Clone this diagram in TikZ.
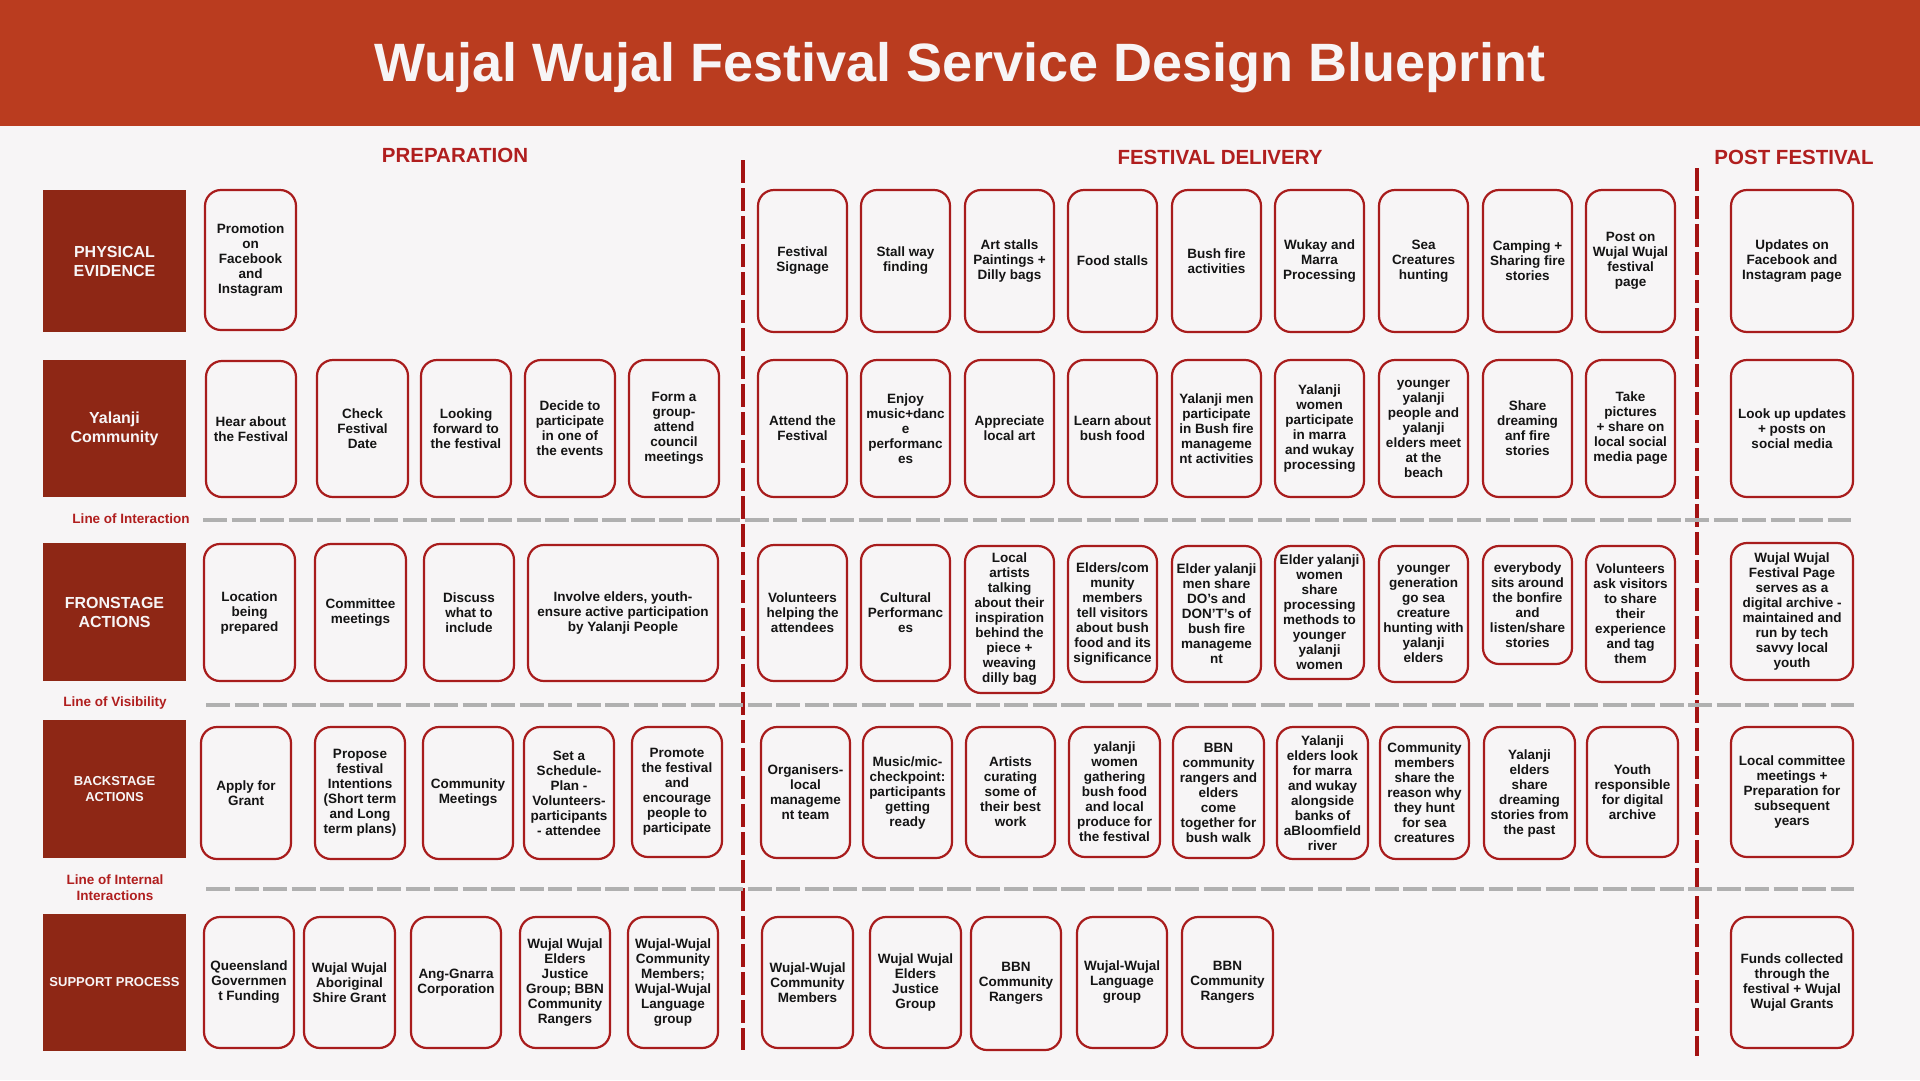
\documentclass[tikz,border=0pt]{standalone}
\usepackage{fontspec}
\setmainfont{Liberation Sans}
\definecolor{bgc}{HTML}{F7F5F6}
\definecolor{bannerc}{HTML}{BA3C1F}
\definecolor{rowc}{HTML}{8E2715}
\definecolor{headc}{HTML}{B01E1E}
\definecolor{cardc}{HTML}{A81C1C}
\definecolor{divc}{HTML}{A31212}
\definecolor{dashc}{HTML}{B0B0B0}
\newcommand{\card}[6]{\node[card, minimum width={(#4)-(#2)}, minimum height={(#5)-(#3)}] (#1) at ({((#2)+(#4))/2},{((#3)+(#5))/2}) {#6};}
\newcommand{\rowlab}[7]{\node[rowbox, #6, minimum width={(#4)-(#2)}, minimum height={(#5)-(#3)}] (#1) at ({((#2)+(#4))/2},{((#3)+(#5))/2}) {#7};}
\begin{document}
\begin{tikzpicture}[x=1pt,y=-1pt,
  card/.style={draw=cardc, line width=2.2pt, rounded corners=16pt, fill=bgc, align=center, inner sep=1pt, text=black!92, font=\bfseries\fontsize{13.5}{15}\selectfont},
  rowbox/.style={fill=rowc, draw=none, align=center, inner sep=2pt, text=bgc, font=\bfseries\fontsize{16}{19}\selectfont},
  smallrow/.style={font=\bfseries\fontsize{13}{16}\selectfont},
  sechead/.style={text=headc, font=\bfseries\fontsize{20.5}{24}\selectfont},
  linelab/.style={text=headc, align=center, font=\bfseries\fontsize{13.5}{16}\selectfont},
  greydash/.style={draw=dashc, line width=3.5pt, dash pattern=on 24pt off 4.5pt},
  reddash/.style={draw=divc, line width=3.5pt, dash pattern=on 23pt off 5pt}]
% background and frame
\fill[bgc] (0,0) rectangle (1920,1080);
\useasboundingbox (0,0) rectangle (1920,1080);
\fill[bannerc] (0,0) rectangle (1920,126);
\node[text=bgc, font=\bfseries\fontsize{54}{60}\selectfont] (title) at (960,68) {Wujal Wujal Festival Service Design Blueprint};
% section headings
\node[sechead] (hprep) at (455,155) {PREPARATION};
\node[sechead] (hfest) at (1220,157) {FESTIVAL DELIVERY};
\node[sechead] (hpost) at (1794,157) {POST FESTIVAL};
% dividers
\draw[reddash] (743,160) -- (743,1050);
\draw[reddash] (1697,168) -- (1697,1056);
\draw[greydash] (203,520) -- (1851,520);
\draw[greydash] (206,705) -- (1854,705);
\draw[greydash] (206,889) -- (1854,889);
\node[linelab] (loi) at (131,519) {Line of Interaction};
\node[linelab] (lov) at (115,703) {Line of Visibility};
\node[linelab] (lii) at (115,888) {Line of Internal\\Interactions};
% row labels
\rowlab{rpe}{43}{190}{186}{332}{}{PHYSICAL\\EVIDENCE}
\rowlab{ryc}{43}{360}{186}{497}{}{Yalanji\\Community}
\rowlab{rfa}{43}{543}{186}{681}{}{FRONSTAGE\\ACTIONS}
\rowlab{rba}{43}{720}{186}{858}{smallrow}{BACKSTAGE\\ACTIONS}
\rowlab{rsp}{43}{914}{186}{1051}{smallrow}{SUPPORT PROCESS}
% ---------- PREPARATION ----------
\card{ppe1}{205}{190}{296}{330}{Promotion\\on\\Facebook\\and\\Instagram}
\card{pyc1}{206}{361}{296}{497}{Hear about\\the Festival}
\card{pyc2}{317}{360}{408}{497}{Check\\Festival\\Date}
\card{pyc3}{421}{360}{511}{497}{Looking\\forward to\\the festival}
\card{pyc4}{525}{360}{615}{497}{Decide to\\participate\\in one of\\the events}
\card{pyc5}{629}{360}{719}{497}{Form a\\group-\\attend\\council\\meetings}
\card{pfa1}{204}{544}{295}{681}{Location\\being\\prepared}
\card{pfa2}{315}{544}{406}{681}{Committee\\meetings}
\card{pfa3}{424}{544}{514}{681}{Discuss\\what to\\include}
\card{pfa4}{528}{545}{718}{681}{Involve elders, youth-\\ensure active participation\\by Yalanji People}
\card{pba1}{201}{727}{291}{859}{Apply for\\Grant}
\card{pba2}{315}{727}{405}{859}{Propose\\festival\\Intentions\\(Short term\\and Long\\term plans)}
\card{pba3}{423}{727}{513}{859}{Community\\Meetings}
\card{pba4}{524}{727}{614}{859}{Set a\\Schedule-\\Plan -\\Volunteers-\\participants\\- attendee}
\card{pba5}{632}{727}{722}{857}{Promote\\the festival\\and\\encourage\\people to\\participate}
\card{psp1}{204}{917}{294}{1048}{Queensland\\Governmen\\t Funding}
\card{psp2}{304}{917}{395}{1048}{Wujal Wujal\\Aboriginal\\Shire Grant}
\card{psp3}{411}{917}{501}{1048}{Ang-Gnarra\\Corporation}
\card{psp4}{520}{917}{610}{1048}{Wujal Wujal\\Elders\\Justice\\Group; BBN\\Community\\Rangers}
\card{psp5}{628}{917}{718}{1048}{Wujal-Wujal\\Community\\Members;\\Wujal-Wujal\\Language\\group}
% ---------- FESTIVAL DELIVERY ----------
\card{fpe1}{758}{190}{847}{332}{Festival\\Signage}
\card{fpe2}{861}{190}{950}{332}{Stall way\\finding}
\card{fpe3}{965}{190}{1054}{332}{Art stalls\\Paintings +\\Dilly bags}
\card{fpe4}{1068}{190}{1157}{332}{Food stalls}
\card{fpe5}{1172}{190}{1261}{332}{Bush fire\\activities}
\card{fpe6}{1275}{190}{1364}{332}{Wukay and\\Marra\\Processing}
\card{fpe7}{1379}{190}{1468}{332}{Sea\\Creatures\\hunting}
\card{fpe8}{1483}{190}{1572}{332}{Camping +\\Sharing fire\\stories}
\card{fpe9}{1586}{190}{1675}{332}{Post on\\Wujal Wujal\\festival\\page}
\card{fyc1}{758}{360}{847}{497}{Attend the\\Festival}
\card{fyc2}{861}{360}{950}{497}{Enjoy\\music+danc\\e\\performanc\\es}
\card{fyc3}{965}{360}{1054}{497}{Appreciate\\local art}
\card{fyc4}{1068}{360}{1157}{497}{Learn about\\bush food}
\card{fyc5}{1172}{360}{1261}{497}{Yalanji men\\participate\\in Bush fire\\manageme\\nt activities}
\card{fyc6}{1275}{360}{1364}{497}{Yalanji\\women\\participate\\in marra\\and wukay\\processing}
\card{fyc7}{1379}{360}{1468}{497}{younger\\yalanji\\people and\\yalanji\\elders meet\\at the\\beach}
\card{fyc8}{1483}{360}{1572}{497}{Share\\dreaming\\anf fire\\stories}
\card{fyc9}{1586}{360}{1675}{497}{Take\\pictures\\+ share on\\local social\\media page}
\card{ffa1}{758}{545}{847}{681}{Volunteers\\helping the\\attendees}
\card{ffa2}{861}{545}{950}{681}{Cultural\\Performanc\\es}
\card{ffa3}{965}{546}{1054}{693}{Local\\artists\\talking\\about their\\inspiration\\behind the\\piece +\\weaving\\dilly bag}
\card{ffa4}{1068}{546}{1157}{682}{Elders/com\\munity\\members\\tell visitors\\about bush\\food and its\\significance}
\card{ffa5}{1172}{546}{1261}{682}{Elder yalanji\\men share\\DO’s and\\DON’T’s of\\bush fire\\manageme\\nt}
\card{ffa6}{1275}{546}{1364}{679}{Elder yalanji\\women\\share\\processing\\methods to\\younger\\yalanji\\women}
\card{ffa7}{1379}{546}{1468}{682}{younger\\generation\\go sea\\creature\\hunting with\\yalanji\\elders}
\card{ffa8}{1483}{546}{1572}{664}{everybody\\sits around\\the bonfire\\and\\listen/share\\stories}
\card{ffa9}{1586}{546}{1675}{682}{Volunteers\\ask visitors\\to share\\their\\experience\\and tag\\them}
\card{fba1}{761}{727}{850}{858}{Organisers-\\local\\manageme\\nt team}
\card{fba2}{863}{727}{952}{858}{Music/mic-\\checkpoint:\\participants\\getting\\ready}
\card{fba3}{966}{727}{1055}{857}{Artists\\curating\\some of\\their best\\work}
\card{fba4}{1069}{727}{1160}{857}{yalanji\\women\\gathering\\bush food\\and local\\produce for\\the festival}
\card{fba5}{1173}{727}{1264}{858}{BBN\\community\\rangers and\\elders\\come\\together for\\bush walk}
\card{fba6}{1277}{727}{1368}{859}{Yalanji\\elders look\\for marra\\and wukay\\alongside\\banks of\\aBloomfield\\river}
\card{fba7}{1380}{727}{1469}{859}{Community\\members\\share the\\reason why\\they hunt\\for sea\\creatures}
\card{fba8}{1484}{727}{1575}{859}{Yalanji\\elders\\share\\dreaming\\stories from\\the past}
\card{fba9}{1587}{727}{1678}{857}{Youth\\responsible\\for digital\\archive}
\card{fsp1}{762}{917}{853}{1048}{Wujal-Wujal\\Community\\Members}
\card{fsp2}{870}{917}{961}{1048}{Wujal Wujal\\Elders\\Justice\\Group}
\card{fsp3}{971}{917}{1061}{1050}{BBN\\Community\\Rangers}
\card{fsp4}{1077}{917}{1167}{1048}{Wujal-Wujal\\Language\\group}
\card{fsp5}{1182}{917}{1273}{1048}{BBN\\Community\\Rangers}
% ---------- POST FESTIVAL ----------
\card{qpe}{1731}{190}{1853}{332}{Updates on\\Facebook and\\Instagram page}
\card{qyc}{1731}{360}{1853}{497}{Look up updates\\+ posts on\\social media}
\card{qfa}{1731}{543}{1853}{680}{Wujal Wujal\\Festival Page\\serves as a\\digital archive -\\maintained and\\run by tech\\savvy local\\youth}
\card{qba}{1731}{727}{1853}{857}{Local committee\\meetings +\\Preparation for\\subsequent\\years}
\card{qsp}{1731}{917}{1853}{1048}{Funds collected\\through the\\festival + Wujal\\Wujal Grants}
\end{tikzpicture}
\end{document}
